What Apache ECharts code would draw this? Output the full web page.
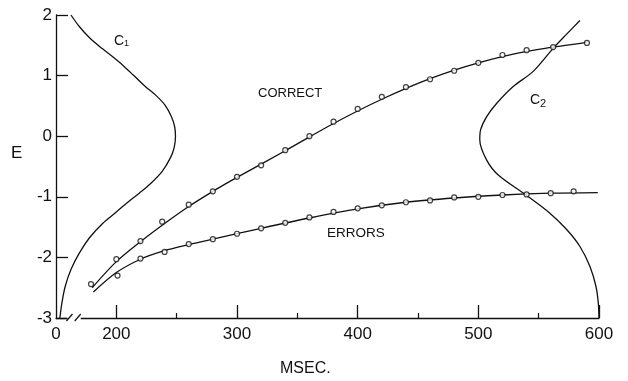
<!DOCTYPE html>
<html>
<head>
<meta charset="utf-8">
<script src="https://cdn.jsdelivr.net/npm/echarts@6/dist/echarts.min.js"></script>
<style>
html,body{margin:0;padding:0;background:#fff;}
#chart{width:628px;height:381px;}
</style>
</head>
<body>
<div id="chart"></div>
<script>
// ---- data (x in MSEC display units, y in E) ----
var xTickValues = [150, 200, 300, 400, 500, 600];
var xTickLabels = ['0', '200', '300', '400', '500', '600'];
var xMinorTicks = [250, 350, 450, 550];
var yTickValues = [-3, -2, -1, 0, 1, 2];

var correctPoints = [
  [179, -2.44], [200, -2.03], [220, -1.73], [238, -1.41], [260, -1.13],
  [280, -0.91], [300, -0.67], [320, -0.48], [340, -0.23], [360, 0.00],
  [380, 0.24], [400, 0.45], [420, 0.65], [440, 0.81], [460, 0.94],
  [480, 1.08], [500, 1.21], [520, 1.34], [540, 1.42], [562, 1.47], [590, 1.54]
];
var correctFit = [
  [180, -2.50], [200, -2.07], [220, -1.74], [240, -1.44], [260, -1.16],
  [280, -0.91], [300, -0.68], [340, -0.24], [380, 0.21], [420, 0.61],
  [460, 0.95], [500, 1.21], [540, 1.40], [590, 1.55]
];
var errorPoints = [
  [201, -2.30], [220, -2.02], [240, -1.91], [260, -1.78], [280, -1.70],
  [300, -1.61], [320, -1.52], [340, -1.43], [360, -1.34], [380, -1.25],
  [400, -1.19], [420, -1.14], [440, -1.09], [460, -1.06], [480, -1.01],
  [500, -1.00], [520, -0.97], [540, -0.96], [560, -0.94], [579, -0.91]
];
var errorFit = [
  [181, -2.57], [200, -2.25], [220, -2.03], [240, -1.89], [260, -1.79],
  [280, -1.70], [320, -1.52], [360, -1.35], [400, -1.20], [440, -1.09],
  [480, -1.02], [520, -0.97], [560, -0.94], [599, -0.93]
];
var c1Curve = [
  [162.4, 2.00], [169.3, 1.81], [178, 1.62], [188, 1.45], [197, 1.31],
  [206, 1.16], [214, 1.01], [224, 0.82], [233, 0.67], [240.5, 0.51],
  [245.5, 0.33], [248.3, 0.16], [249, 0.00], [248, -0.18], [245, -0.35],
  [238, -0.58], [228, -0.79], [219, -0.94], [209.5, -1.09], [200, -1.25],
  [188.6, -1.44], [177.6, -1.68], [169.3, -1.93], [162.4, -2.20],
  [157.6, -2.48], [154.9, -2.75], [153.2, -3.00]
];
var c2Curve = [
  [584.2, 1.91], [573.0, 1.68], [562.0, 1.45], [545.5, 1.07], [528.9, 0.82],
  [515.1, 0.54], [506.8, 0.32], [501.8, 0.10], [501.2, -0.06], [506.8, -0.39],
  [517.0, -0.65], [538.8, -0.96], [559.3, -1.27], [573.2, -1.54], [584.2, -1.82],
  [592.5, -2.15], [597.5, -2.48], [599.4, -2.75], [600, -3.00]
];

var FONT = '"Liberation Sans", Arial, sans-serif';
var chart = echarts.init(document.getElementById('chart'), null, {renderer: 'canvas'});

var lineStyle = {color: '#111', width: 1.3};
var option = {
  backgroundColor: '#fff',
  animation: false,
  grid: {left: 56, right: 29, top: 15, bottom: 63},
  xAxis: [{
    type: 'value', min: 150, max: 600,
    axisLine: {show: true, onZero: false, lineStyle: {color: '#111', width: 1.3}},
    axisTick: {show: true, inside: true, length: 13, customValues: xTickValues.slice(1), lineStyle: {color: '#111', width: 1.3}},
    axisLabel: {
      show: true, customValues: xTickValues, margin: 8,
      color: '#111', fontSize: 17, fontFamily: FONT,
      formatter: function (v) { var i = xTickValues.indexOf(v); return i >= 0 ? xTickLabels[i] : ''; }
    },
    splitLine: {show: false}
  }, {
    type: 'value', min: 150, max: 600, position: 'bottom',
    axisLine: {show: false, onZero: false},
    axisTick: {show: true, inside: true, length: 5, customValues: xMinorTicks, lineStyle: {color: '#111', width: 1.2}},
    axisLabel: {show: false},
    splitLine: {show: false}
  }],
  yAxis: {
    type: 'value', min: -3, max: 2, interval: 1,
    axisLine: {show: true, onZero: false, lineStyle: {color: '#111', width: 1.3}},
    axisTick: {show: true, inside: true, length: 12, lineStyle: {color: '#111', width: 1.3}},
    axisLabel: {color: '#111', fontSize: 17, fontFamily: FONT, margin: 4},
    splitLine: {show: false}
  },
  series: [
    {type: 'line', data: c1Curve, smooth: 0.3, showSymbol: false, lineStyle: lineStyle},
    {type: 'line', data: c2Curve, smooth: 0.3, showSymbol: false, lineStyle: lineStyle},
    {type: 'line', data: correctFit, smooth: 0.3, showSymbol: false, lineStyle: lineStyle},
    {type: 'line', data: errorFit, smooth: 0.3, showSymbol: false, lineStyle: lineStyle},
    {type: 'scatter', data: correctPoints, symbol: 'circle', symbolSize: 5,
     itemStyle: {color: '#fff', borderColor: '#111', borderWidth: 1.2}, z: 5},
    {type: 'scatter', data: errorPoints, symbol: 'circle', symbolSize: 5,
     itemStyle: {color: '#fff', borderColor: '#111', borderWidth: 1.2}, z: 5}
  ]
};
chart.setOption(option);

// axis break and annotations
var pA = chart.convertToPixel({xAxisIndex: 0, yAxisIndex: 0}, [159.5, -3]);
var pB = chart.convertToPixel({xAxisIndex: 0, yAxisIndex: 0}, [170.5, -3]);
var y0 = pA[1];
chart.setOption({
  graphic: [
    {type: 'rect', shape: {x: pA[0], y: y0 - 2, width: pB[0] - pA[0], height: 4}, style: {fill: '#fff'}, z: 100},
    {type: 'line', shape: {x1: pA[0] - 1, y1: y0 + 3, x2: pA[0] + 5, y2: y0 - 4}, style: {stroke: '#111', lineWidth: 1.2}, z: 101},
    {type: 'line', shape: {x1: pB[0] - 6, y1: y0 + 3, x2: pB[0], y2: y0 - 4}, style: {stroke: '#111', lineWidth: 1.2}, z: 101},
    {type: 'text', left: 11, top: 145, style: {text: 'E', fontSize: 17, fontFamily: FONT, fill: '#111'}},
    {type: 'text', left: 280, top: 361, style: {text: 'MSEC.', fontSize: 16, fontFamily: FONT, fill: '#111'}},
    {type: 'text', left: 258, top: 87, style: {text: 'CORRECT', fontSize: 13, fontFamily: FONT, fill: '#111'}},
    {type: 'text', left: 327, top: 226, style: {text: 'ERRORS', fontSize: 13.5, fontFamily: FONT, fill: '#111'}},
    {type: 'text', left: 114, top: 34, style: {
      text: '{c|C}{s|1}', fontFamily: FONT, fill: '#111',
      rich: {c: {fontSize: 14, fontFamily: FONT, fill: '#111'}, s: {fontSize: 9, fontFamily: FONT, fill: '#111', padding: [6, 0, 0, 0]}}
    }},
    {type: 'text', left: 530, top: 93, style: {
      text: '{c|C}{s|2}', fontFamily: FONT, fill: '#111',
      rich: {c: {fontSize: 14, fontFamily: FONT, fill: '#111'}, s: {fontSize: 11, fontFamily: FONT, fill: '#111', padding: [8, 0, 0, 0]}}
    }}
  ]
});
</script>
</body>
</html>
